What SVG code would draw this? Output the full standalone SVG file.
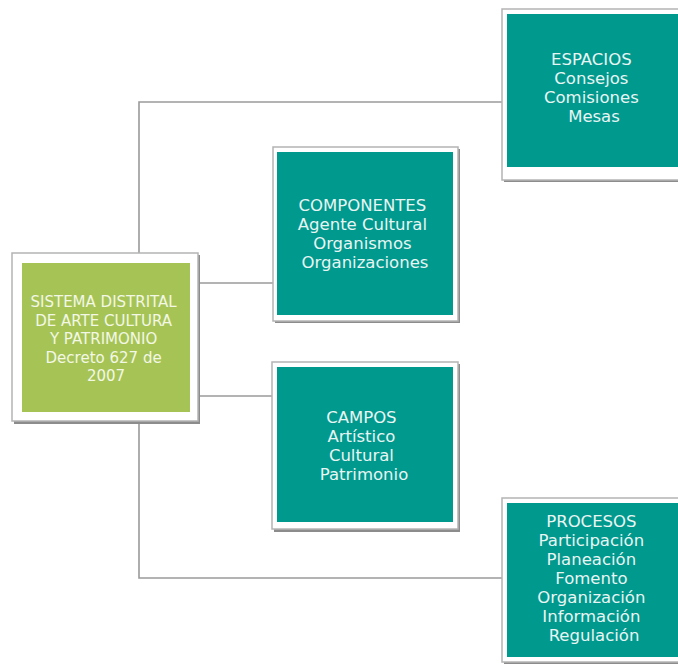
<svg xmlns="http://www.w3.org/2000/svg" width="678" height="665" viewBox="0 0 678 665">
  <style>
    .frame { fill: #ffffff; stroke: #b4b4b4; stroke-width: 1.5; }
    .shadow { fill: #8c8c8c; }
    .teal { fill: #00998e; }
    .green { fill: #a6c455; }
    .conn { fill: none; stroke: #9a9a9a; stroke-width: 1.6; }
    .lbl { font-family: "DejaVu Sans", "Liberation Sans", sans-serif; font-size: 16.5px; fill: #e9f5f3; text-anchor: middle; }
    .lbl-c { font-family: "DejaVu Sans", "Liberation Sans", sans-serif; font-size: 15px; fill: #f3f7e6; text-anchor: middle; }
  </style>
  <rect width="678" height="665" fill="#ffffff"/>

  <!-- connectors -->
  <g id="connectors">
    <polyline class="conn" points="139,253 139,102 502,102"/>
    <polyline class="conn" points="139,422 139,578 502,578"/>
    <line class="conn" x1="198" y1="283" x2="273" y2="283"/>
    <line class="conn" x1="198" y1="396" x2="273" y2="396"/>
  </g>

  <!-- central node -->
  <g id="sistema">
    <rect class="shadow" x="14" y="255" width="186" height="169"/>
    <rect class="frame" x="12" y="253" width="186" height="168"/>
    <rect class="green" x="22" y="263" width="168" height="149"/>
    <text class="lbl-c">
      <tspan x="106" y="307">SISTEMA DISTRITAL</tspan>
      <tspan x="106" y="326">DE ARTE CULTURA</tspan>
      <tspan x="106" y="344">Y PATRIMONIO</tspan>
      <tspan x="106" y="363">Decreto 627 de</tspan>
      <tspan x="106" y="381">2007</tspan>
    </text>
  </g>

  <!-- ESPACIOS -->
  <g id="espacios">
    <rect class="shadow" x="504" y="11" width="180" height="171"/>
    <rect class="frame" x="502" y="9" width="180" height="171"/>
    <rect class="teal" x="507" y="14" width="175" height="153"/>
    <text class="lbl">
      <tspan x="594" y="65">ESPACIOS</tspan>
      <tspan x="594" y="84">Consejos</tspan>
      <tspan x="594" y="103">Comisiones</tspan>
      <tspan x="594" y="122">Mesas</tspan>
    </text>
  </g>

  <!-- COMPONENTES -->
  <g id="componentes">
    <rect class="shadow" x="275" y="149" width="185" height="174"/>
    <rect class="frame" x="273" y="147" width="185" height="174"/>
    <rect class="teal" x="277" y="152" width="176" height="163"/>
    <text class="lbl">
      <tspan x="365" y="211">COMPONENTES</tspan>
      <tspan x="365" y="230">Agente Cultural</tspan>
      <tspan x="365" y="249">Organismos</tspan>
      <tspan x="365" y="268">Organizaciones</tspan>
    </text>
  </g>

  <!-- CAMPOS -->
  <g id="campos">
    <rect class="shadow" x="274" y="364" width="186" height="168"/>
    <rect class="frame" x="272" y="362" width="186" height="167"/>
    <rect class="teal" x="277" y="367" width="176" height="155"/>
    <text class="lbl">
      <tspan x="364" y="423">CAMPOS</tspan>
      <tspan x="364" y="442">Artístico</tspan>
      <tspan x="364" y="461">Cultural</tspan>
      <tspan x="364" y="480">Patrimonio</tspan>
    </text>
  </g>

  <!-- PROCESOS -->
  <g id="procesos">
    <rect class="shadow" x="504" y="500" width="180" height="164"/>
    <rect class="frame" x="502" y="498" width="180" height="164"/>
    <rect class="teal" x="507" y="503" width="175" height="154"/>
    <text class="lbl">
      <tspan x="594" y="527">PROCESOS</tspan>
      <tspan x="594" y="546">Participación</tspan>
      <tspan x="594" y="565">Planeación</tspan>
      <tspan x="594" y="584">Fomento</tspan>
      <tspan x="594" y="603">Organización</tspan>
      <tspan x="594" y="622">Información</tspan>
      <tspan x="594" y="641">Regulación</tspan>
    </text>
  </g>
</svg>
